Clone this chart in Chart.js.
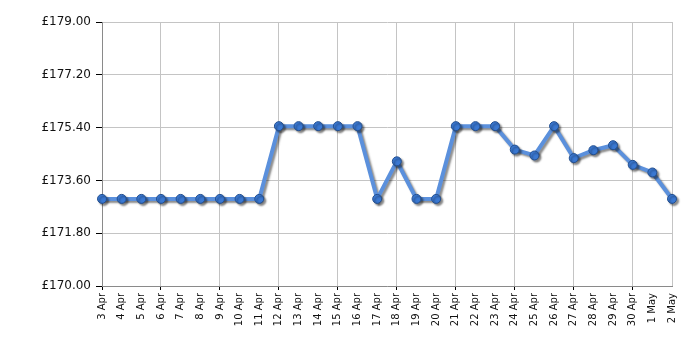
<!DOCTYPE html>
<html>
<head>
<meta charset="utf-8">
<script src="https://cdn.jsdelivr.net/npm/chart.js@4.4.0/dist/chart.umd.min.js"></script>
<style>
  html, body { margin: 0; padding: 0; background: #fff; }
  #wrap { width: 700px; height: 350px; }
</style>
</head>
<body>
<div id="wrap"><canvas id="priceChart" width="700" height="350"></canvas></div>
<script>
// price history, one point per day
const days = ['3 Apr', '4 Apr', '5 Apr', '6 Apr', '7 Apr', '8 Apr', '9 Apr', '10 Apr', '11 Apr',
    '12 Apr', '13 Apr', '14 Apr', '15 Apr', '16 Apr', '17 Apr', '18 Apr', '19 Apr', '20 Apr',
    '21 Apr', '22 Apr', '23 Apr', '24 Apr', '25 Apr', '26 Apr', '27 Apr', '28 Apr', '29 Apr',
    '30 Apr', '1 May', '2 May'];
const prices = [172.97, 172.97, 172.97, 172.97, 172.97, 172.97, 172.97, 172.97, 172.97,
    175.45, 175.45, 175.45, 175.45, 175.45, 172.97, 174.25, 172.97, 172.97,
    175.45, 175.45, 175.45, 174.65, 174.45, 175.45, 174.36, 174.63, 174.80,
    174.13, 173.87, 172.97];
const yTicks = [170.00, 171.80, 173.60, 175.40, 177.20, 179.00];

// soft drop shadow under the line and the dots
const shadowPlugin = {
    id: 'shadow',
    beforeDatasetDraw(chart) {
        const ctx = chart.ctx;
        ctx.save();
        ctx.shadowColor = 'rgba(0, 0, 0, 0.45)';
        ctx.shadowBlur = 2;
        ctx.shadowOffsetX = 2;
        ctx.shadowOffsetY = 2;
    },
    afterDatasetDraw(chart) {
        chart.ctx.restore();
    }
};

const isMajor = (i) => i % 3 === 0;

new Chart(document.getElementById('priceChart').getContext('2d'), {
    type: 'line',
    data: {
        labels: days,
        datasets: [{
            data: prices,
            borderColor: '#5b90dc',
            borderWidth: 4,
            tension: 0,
            fill: false,
            pointRadius: 4.5,
            pointHoverRadius: 4.5,
            pointBackgroundColor: '#3a78d2',
            pointBorderColor: '#234f8f',
            pointBorderWidth: 1,
            clip: false
        }]
    },
    plugins: [shadowPlugin],
    options: {
        responsive: false,
        animation: false,
        events: [],
        layout: { padding: { top: 22, right: 28, left: 0, bottom: 0 } },
        plugins: {
            legend: { display: false },
            tooltip: { enabled: false }
        },
        scales: {
            x: {
                afterFit: (scale) => { scale.height = 64; },
                grid: {
                    color: (c) => (isMajor(c.index) || c.index === days.length - 1) ? '#c4c4c4' : 'rgba(0,0,0,0)',
                    tickColor: (c) => isMajor(c.index) ? '#000' : 'rgba(0,0,0,0)',
                    tickLength: 4,
                    lineWidth: 1
                },
                border: { color: '#8a8a8a', width: 1 },
                ticks: {
                    autoSkip: false,
                    minRotation: 90,
                    maxRotation: 90,
                    padding: 3,
                    color: '#111',
                    font: { family: 'DejaVu Sans', size: 10 }
                }
            },
            y: {
                min: 170,
                max: 179,
                afterFit: (scale) => { scale.width = 102; },
                afterBuildTicks: (scale) => { scale.ticks = yTicks.map(v => ({ value: v })); },
                grid: {
                    color: '#c4c4c4',
                    tickColor: '#000',
                    tickLength: 6,
                    lineWidth: 1
                },
                border: { color: '#8a8a8a', width: 1 },
                ticks: {
                    padding: 5,
                    color: '#111',
                    font: { family: 'DejaVu Sans', size: 12 },
                    callback: (v) => '£' + Number(v).toFixed(2)
                }
            }
        }
    }
});
</script>
</body>
</html>
